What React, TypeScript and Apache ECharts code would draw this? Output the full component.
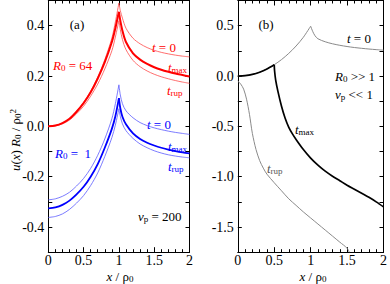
import React, { useEffect, useRef } from "react";
import * as echarts from "echarts";

// ---------- data ----------
// panel (a) sampling in x / rho0
const xA = [0, 0.1, 0.2, 0.3, 0.4, 0.5, 0.6, 0.7, 0.8, 0.9, 0.95, 1.0, 1.02, 1.05, 1.1, 1.2, 1.3, 1.4, 1.5, 1.6, 1.7, 1.8, 1.9, 2.0];
const peakA = 11;
// R0 = 64 (red)
const red_t0 = [0, 0.003, 0.013, 0.03, 0.06, 0.095, 0.14, 0.195, 0.265, 0.35, 0.415, 0.49, 0.46, 0.43, 0.39, 0.35, 0.328, 0.313, 0.302, 0.294, 0.288, 0.283, 0.279, 0.276];
const red_tmax = [0, 0.003, 0.013, 0.03, 0.058, 0.092, 0.135, 0.19, 0.255, 0.335, 0.39, 0.455, 0.42, 0.38, 0.335, 0.29, 0.265, 0.248, 0.235, 0.225, 0.217, 0.21, 0.204, 0.198];
const red_trup = [0, 0.002, 0.01, 0.025, 0.05, 0.08, 0.12, 0.168, 0.228, 0.3, 0.355, 0.42, 0.385, 0.345, 0.305, 0.262, 0.237, 0.22, 0.207, 0.197, 0.189, 0.182, 0.176, 0.171];
// R0 = 1 (blue)
const blue_t0 = [-0.292, -0.288, -0.278, -0.262, -0.237, -0.207, -0.167, -0.115, -0.05, 0.03, 0.09, 0.165, 0.125, 0.09, 0.062, 0.034, 0.015, 0.003, -0.006, -0.013, -0.019, -0.024, -0.028, -0.032];
const blue_tmax = [-0.326, -0.322, -0.312, -0.295, -0.27, -0.24, -0.2, -0.15, -0.085, -0.01, 0.04, 0.112, 0.072, 0.038, 0.008, -0.028, -0.05, -0.065, -0.076, -0.085, -0.092, -0.098, -0.103, -0.107];
const blue_trup = [-0.362, -0.358, -0.348, -0.33, -0.305, -0.275, -0.235, -0.185, -0.12, -0.045, 0.005, 0.07, 0.04, 0.01, -0.017, -0.048, -0.07, -0.085, -0.097, -0.106, -0.113, -0.118, -0.122, -0.125];

// panel (b)
const xB0 = [0, 0.1, 0.2, 0.3, 0.4, 0.5, 0.6, 0.7, 0.8, 0.9, 1.0, 1.03, 1.06, 1.1, 1.2, 1.3, 1.4, 1.5, 1.6, 1.7, 1.8, 1.9, 2.0];
const b_t0 = [0, 0.004, 0.016, 0.038, 0.07, 0.112, 0.163, 0.225, 0.298, 0.385, 0.495, 0.44, 0.4, 0.37, 0.34, 0.32, 0.305, 0.293, 0.283, 0.275, 0.268, 0.262, 0.257];
const peakB0 = 10;
const xBmax = [0, 0.1, 0.2, 0.3, 0.4, 0.5, 0.505, 0.52, 0.55, 0.6, 0.65, 0.7, 0.75, 0.8, 0.9, 1.0, 1.1, 1.2, 1.3, 1.4, 1.5, 1.6, 1.7, 1.8, 1.9, 2.0];
const b_tmax = [0, 0.004, 0.016, 0.038, 0.07, 0.112, 0.05, -0.04, -0.15, -0.3, -0.42, -0.51, -0.575, -0.63, -0.73, -0.815, -0.885, -0.945, -0.995, -1.04, -1.085, -1.125, -1.165, -1.205, -1.25, -1.3];
const kinkBmax = 5;
const xBrup = [0, 0.04, 0.08, 0.12, 0.16, 0.2, 0.25, 0.3, 0.35, 0.4, 0.5, 0.6, 0.7, 0.8, 0.9, 1.0, 1.1, 1.2, 1.3, 1.4, 1.5, 1.53];
const b_trup = [-0.05, -0.08, -0.13, -0.23, -0.38, -0.57, -0.73, -0.84, -0.915, -0.975, -1.06, -1.14, -1.22, -1.285, -1.35, -1.41, -1.47, -1.53, -1.59, -1.65, -1.71, -1.75];

// axes
const xRange = [0, 2];
const yRangeA = [-0.5, 0.5];
const yRangeB = [-1.75, 0.75];

const FONT = '"Liberation Serif", "Times New Roman", serif';

const pairs = (xs: number[], ys: number[]) => xs.map((x, i) => [x, ys[i]]);
const split = (xs: number[], ys: number[], k: number) => {
  const d = pairs(xs, ys);
  return [d.slice(0, k + 1), d.slice(k)];
};

const rich = {
  n: { fontFamily: FONT, fontSize: 13, lineHeight: 14 },
  i: { fontFamily: FONT, fontSize: 13, fontStyle: "italic", lineHeight: 14 },
  s: { fontFamily: FONT, fontSize: 9, lineHeight: 8, verticalAlign: "bottom" },
  p: { fontFamily: FONT, fontSize: 9, lineHeight: 8, verticalAlign: "top" },
};

const txt = (x: number, y: number, text: string, fill: string, align = "left", rotation = 0) => ({
  type: "text",
  x,
  y,
  rotation,
  style: { text, rich, fill, align, verticalAlign: "middle", fontFamily: FONT, fontSize: 13 },
});

const fmtStep = (step: number) => (v: number) => {
  const k = Math.round(v / step);
  if (Math.abs(v - k * step) > 1e-6) return "";
  const r = k * step;
  return Math.abs(r) < 1e-9 ? "0.0" : r.toFixed(1);
};

const axisLine = { show: true, onZero: false, lineStyle: { color: "#000", width: 1 } };
const labelStyle = { fontFamily: FONT, fontSize: 14, color: "#000" };

function xAxes(grid: number) {
  const base = {
    gridIndex: grid,
    type: "value",
    min: xRange[0],
    max: xRange[1],
    interval: 0.5,
    axisLine,
    axisTick: { show: true, inside: true, length: 5, lineStyle: { color: "#000" } },
    minorTick: { show: true, splitNumber: 5, length: 3, lineStyle: { color: "#000" } },
    splitLine: { show: false },
  };
  return [
    { ...base, position: "bottom", axisLabel: { ...labelStyle, margin: 2, lineHeight: 13 } },
    { ...base, position: "top", axisLabel: { show: false } },
  ];
}

function yAxes(grid: number, range: number[], step: number, labStep: number) {
  const base = {
    gridIndex: grid,
    type: "value",
    min: range[0],
    max: range[1],
    interval: step,
    axisLine,
    axisTick: { show: true, inside: true, length: 4, lineStyle: { color: "#000" } },
    splitLine: { show: false },
  };
  return [
    { ...base, position: "left", axisLabel: { ...labelStyle, margin: 4, formatter: fmtStep(labStep), showMinLabel: true, showMaxLabel: true } },
    { ...base, position: "right", axisLabel: { show: false } },
  ];
}

function line(data: number[][], color: string, width: number, xi: number, yi: number) {
  return {
    type: "line",
    xAxisIndex: xi,
    yAxisIndex: yi,
    data,
    showSymbol: false,
    symbol: "none",
    smooth: 0.3,
    lineStyle: { color, width },
    clip: true,
    silent: true,
  };
}

export default function App() {
  const ref = useRef<HTMLDivElement>(null);
  useEffect(() => {
    document.body.style.margin = "0";
    const chart = echarts.init(ref.current!, null, { renderer: "svg" });
    const series: any[] = [];
    const addSplit = (xs: number[], ys: number[], k: number, c: string, w: number, xi: number, yi: number) => {
      const [a, b] = split(xs, ys, k);
      series.push(line(a, c, w, xi, yi), line(b, c, w, xi, yi));
    };
    const RT = "#ff4a4a", BT = "#5a5aff";
    addSplit(xA, red_t0, peakA, RT, 0.8, 0, 0);
    addSplit(xA, red_trup, peakA, RT, 0.8, 0, 0);
    addSplit(xA, red_tmax, peakA, "#ff0000", 2, 0, 0);
    addSplit(xA, blue_t0, peakA, BT, 0.8, 0, 0);
    addSplit(xA, blue_trup, peakA, BT, 0.8, 0, 0);
    addSplit(xA, blue_tmax, peakA, "#0000ff", 1.8, 0, 0);
    addSplit(xB0, b_t0, peakB0, "#8a8a8a", 1, 2, 2);
    series.push(line(pairs(xBrup, b_trup), "#8a8a8a", 1, 2, 2));
    addSplit(xBmax, b_tmax, kinkBmax, "#000000", 1.7, 2, 2);

    chart.setOption({
      animation: false,
      backgroundColor: "#fff",
      grid: [
        { left: 48.3, top: 0.5, width: 141.2, height: 251.7 },
        { left: 237.8, top: 0.5, width: 148, height: 251.7 },
      ],
      xAxis: [...xAxes(0), ...xAxes(1)],
      yAxis: [...yAxes(0, yRangeA, 0.1, 0.2), ...yAxes(1, yRangeB, 0.25, 0.5)],
      series,
      graphic: [
        txt(15, 140, "{i|u}{n|(}{i|x}{n|) }{i|R}{s|0}{n| / ρ}{s|0}{p|2}", "#000", "center", Math.PI / 2),
        txt(120, 276, "{i|x}{n| / ρ}{s|0}", "#000", "center"),
        txt(313, 276, "{i|x}{n| / ρ}{s|0}", "#000", "center"),
        txt(77, 24, "{n|(a)}", "#000", "center"),
        txt(266, 24, "{n|(b)}", "#000", "center"),
        txt(152, 47, "{i|t}{n| = 0}", "#ff0000"),
        txt(168, 67, "{i|t}{s|max}", "#ff0000"),
        txt(167, 90, "{i|t}{s|rup}", "#ff0000"),
        txt(53, 65, "{i|R}{s|0}{n| = 64}", "#ff0000"),
        txt(147, 124, "{i|t}{n| = 0}", "#0000ff"),
        txt(168, 146, "{i|t}{s|max}", "#0000ff"),
        txt(168, 166, "{i|t}{s|rup}", "#0000ff"),
        txt(55, 153, "{i|R}{s|0}{n| =  1}", "#0000ff"),
        txt(138, 216, "{i|v}{s|p}{n| = 200}", "#000"),
        txt(347, 38, "{i|t}{n| = 0}", "#000"),
        txt(335, 76, "{i|R}{s|0}{n| >> 1}", "#000"),
        txt(335, 94, "{i|v}{s|p}{n| << 1}", "#000"),
        txt(295, 129, "{i|t}{s|max}", "#000"),
        txt(267, 168, "{i|t}{s|rup}", "#555"),
      ],
    });
    return () => chart.dispose();
  }, []);
  return <div ref={ref} style={{ width: 390, height: 284 }} />;
}
